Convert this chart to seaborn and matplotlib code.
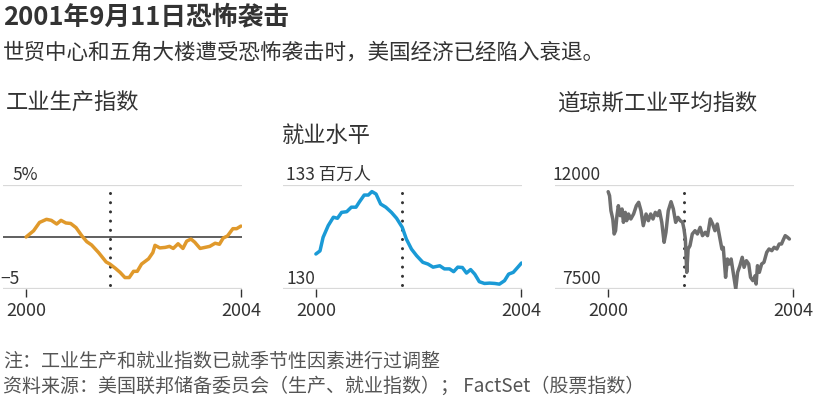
import matplotlib
matplotlib.use('Agg')
import matplotlib.pyplot as plt
import pandas as pd
import seaborn as sns

# Data (decimal years)
ip_year = [2000.0, 2000.14, 2000.25, 2000.38, 2000.47, 2000.57, 2000.65, 2000.74, 2000.83, 2000.93,
           2001.04, 2001.13, 2001.22, 2001.35, 2001.49, 2001.56, 2001.66, 2001.75, 2001.84, 2001.92,
           2002.0, 2002.07, 2002.15, 2002.28, 2002.36, 2002.4, 2002.49, 2002.59, 2002.67, 2002.74,
           2002.83, 2002.92, 2002.99, 2003.07, 2003.14, 2003.24, 2003.33, 2003.42, 2003.52, 2003.6,
           2003.67, 2003.75, 2003.85, 2003.92, 2004.0]
ip_value = [0.0, 0.6, 1.4, 1.7, 1.6, 1.25, 1.6, 1.35, 1.3, 0.9,
            0.1, -0.45, -0.77, -1.5, -2.4, -2.6, -3.0, -3.4, -3.9, -3.9,
            -3.3, -3.3, -2.6, -2.1, -1.5, -0.8, -1.05, -1.0, -0.9, -1.1,
            -0.65, -1.1, -0.4, -0.2, -0.5, -1.1, -1.0, -0.9, -0.6, -0.7,
            -0.1, 0.1, 0.8, 0.8, 1.05]

emp_year = [2000.0, 2000.08, 2000.14, 2000.24, 2000.34, 2000.42, 2000.5, 2000.6, 2000.69, 2000.78,
            2000.85, 2000.94, 2001.02, 2001.09, 2001.17, 2001.26, 2001.36, 2001.47, 2001.57, 2001.68,
            2001.76, 2001.86, 2001.96, 2002.08, 2002.18, 2002.28, 2002.41, 2002.5, 2002.6, 2002.68,
            2002.76, 2002.85, 2002.93, 2003.01, 2003.09, 2003.18, 2003.28, 2003.38, 2003.48, 2003.57,
            2003.67, 2003.75, 2003.84, 2003.93, 2004.0]
emp_value = [131.01, 131.1, 131.49, 131.83, 132.07, 132.04, 132.21, 132.23, 132.36, 132.36,
             132.52, 132.71, 132.71, 132.81, 132.74, 132.45, 132.36, 132.21, 132.04, 131.78,
             131.44, 131.15, 130.96, 130.77, 130.72, 130.63, 130.67, 130.58, 130.58, 130.5,
             130.63, 130.62, 130.46, 130.56, 130.43, 130.21, 130.16, 130.17, 130.16, 130.14,
             130.24, 130.43, 130.48, 130.63, 130.75]

dow_year = [2000.0, 2000.03, 2000.06, 2000.1, 2000.13, 2000.16, 2000.19, 2000.22, 2000.26, 2000.3,
            2000.33, 2000.37, 2000.4, 2000.44, 2000.49, 2000.55, 2000.61, 2000.66, 2000.71, 2000.76,
            2000.82, 2000.87, 2000.92, 2000.97, 2001.02, 2001.07, 2001.11, 2001.16, 2001.21, 2001.25,
            2001.3, 2001.36, 2001.41, 2001.46, 2001.51, 2001.56, 2001.61, 2001.64, 2001.67, 2001.7,
            2001.73, 2001.77, 2001.82, 2001.88, 2001.93, 2001.99, 2002.04, 2002.1, 2002.15, 2002.21,
            2002.26, 2002.31, 2002.36, 2002.42, 2002.46, 2002.49, 2002.54, 2002.58, 2002.62, 2002.66,
            2002.71, 2002.76, 2002.8, 2002.85, 2002.9, 2002.94, 2002.99, 2003.04, 2003.08, 2003.13,
            2003.18, 2003.2, 2003.23, 2003.27, 2003.32, 2003.37, 2003.43, 2003.48, 2003.54, 2003.59,
            2003.65, 2003.7, 2003.75, 2003.79, 2003.83, 2003.88, 2003.92]
dow_value = [11710, 11537, 10888, 10529, 9880, 10023, 10672, 11105, 10672, 10962,
             10384, 10817, 10456, 10745, 10529, 10745, 11105, 11250, 10888, 10240,
             10745, 10456, 10745, 10529, 10817, 10672, 10888, 10384, 9520, 9953,
             10888, 11278, 10962, 10384, 10600, 10456, 10384, 10096, 9663, 8221,
             9231, 9375, 9880, 10023, 9880, 10167, 9808, 9953, 9808, 10529,
             10312, 10023, 10312, 9663, 9231, 9303, 8006, 8798, 8582, 8798,
             8149, 7500, 8221, 8510, 8871, 8438, 8726, 8582, 8006, 7861,
             8077, 7716, 8510, 8221, 8582, 8654, 9087, 9231, 9159, 9303,
             9231, 9447, 9447, 9635, 9808, 9736, 9663]

event_year = [2001.56, 2001.67, 2001.64]   # dotted 9/11 marker as drawn in each panel
year_ticks = [2000, 2004]

panel_titles = ['工业生产指数', '就业水平', '道琼斯工业平均指数']
top_labels = ['5%', '133 百万人', '12000']
bottom_labels = ['\u22125', '130', '7500']

sns.set_style('white')
plt.rcParams['font.family'] = ['Noto Sans CJK SC', 'DejaVu Sans']
plt.rcParams['axes.unicode_minus'] = True

TEXT = '#333333'
fig = plt.figure(figsize=(8.16, 4.02), dpi=100)

panels = [
    dict(x=ip_year, y=ip_value, color='#E0992B', ylim=(-5, 5), xlim=(1999.57, 2004.02),
         rect=[3 / 816, 112 / 402, 239 / 816, 104 / 402]),
    dict(x=emp_year, y=emp_value, color='#1A9AD6', ylim=(130, 133), xlim=(1999.36, 2004.01),
         rect=[283 / 816, 112 / 402, 239 / 816, 104 / 402]),
    dict(x=dow_year, y=dow_value, color='#6E6E6E', ylim=(7500, 12000), xlim=(1998.85, 2004.02),
         rect=[555 / 816, 112 / 402, 239 / 816, 104 / 402]),
]

for i, p in enumerate(panels):
    ax = fig.add_axes(p['rect'])
    df = pd.DataFrame({'year': p['x'], 'value': p['y']})
    ax.axhline(p['ylim'][1], color='#D9D9D9', lw=1.6, zorder=1)
    ax.axhline(p['ylim'][0], color='#D9D9D9', lw=1.6, zorder=1)
    if i == 0:
        ax.axhline(0, color='#444444', lw=1.2, zorder=1)
    ax.vlines(event_year[i], p['ylim'][0] + 0.04 * (p['ylim'][1] - p['ylim'][0]), p['ylim'][1],
              color='#333333', lw=2.2, linestyles=[(0, (0.01, 3.0))], capstyle='round', zorder=2)
    sns.lineplot(data=df, x='year', y='value', ax=ax, color=p['color'], lw=2.5,
                 estimator=None, sort=False, zorder=3)
    ax.set_xlim(*p['xlim'])
    ax.set_ylim(p['ylim'][0], p['ylim'][1])
    ax.set_xlabel('')
    ax.set_ylabel('')
    ax.set_yticks([])
    ax.set_xticks(year_ticks)
    ax.set_xticklabels([str(t) for t in year_ticks])
    ax.tick_params(axis='x', length=6, width=1.0, color='#333333', pad=3,
                   labelsize=13, labelcolor=TEXT, bottom=True)
    for s in ax.spines.values():
        s.set_visible(False)
    ax.patch.set_alpha(0)

    # value labels
    if i == 0:
        ax.text(9 / 239, 1.11, top_labels[i], transform=ax.transAxes, ha='left', va='center',
                fontsize=12.5, color=TEXT)
        ax.text(17 / 239, 0.11, bottom_labels[i], transform=ax.transAxes, ha='right', va='center',
                fontsize=12.5, color=TEXT)
    elif i == 1:
        ax.text(3 / 239, 1.11, top_labels[i], transform=ax.transAxes, ha='left', va='center',
                fontsize=12.5, color=TEXT)
        ax.text(3 / 239, 0.11, bottom_labels[i], transform=ax.transAxes, ha='left', va='center',
                fontsize=12.5, color=TEXT)
    else:
        ax.text(46 / 239, 1.11, top_labels[i], transform=ax.transAxes, ha='right', va='center',
                fontsize=12.5, color=TEXT)
        ax.text(46 / 239, 0.11, bottom_labels[i], transform=ax.transAxes, ha='right', va='center',
                fontsize=12.5, color=TEXT)

# titles
fig.text(3 / 816, 1 - 17 / 402, '2001年9月11日恐怖袭击', ha='left', va='center',
         fontsize=18.5, fontweight='bold', color=TEXT)
fig.text(3 / 816, 1 - 53 / 402, '世贸中心和五角大楼遭受恐怖袭击时，美国经济已经陷入衰退。',
         ha='left', va='center', fontsize=15.5, color=TEXT)
fig.text(6 / 816, 1 - 103 / 402, panel_titles[0], ha='left', va='center', fontsize=16, color=TEXT)
fig.text(282 / 816, 1 - 135 / 402, panel_titles[1], ha='left', va='center', fontsize=16, color=TEXT)
fig.text(557 / 816, 1 - 103 / 402, panel_titles[2], ha='left', va='center', fontsize=16, color=TEXT)

# footer
fig.text(3 / 816, 1 - 361 / 402, '注：工业生产和就业指数已就季节性因素进行过调整',
         ha='left', va='center', fontsize=13.7, color='#555555')
fig.text(3 / 816, 1 - 386 / 402, '资料来源：美国联邦储备委员会（生产、就业指数）； FactSet（股票指数）',
         ha='left', va='center', fontsize=13.7, color='#555555')

fig.savefig('out.png', dpi=100)
